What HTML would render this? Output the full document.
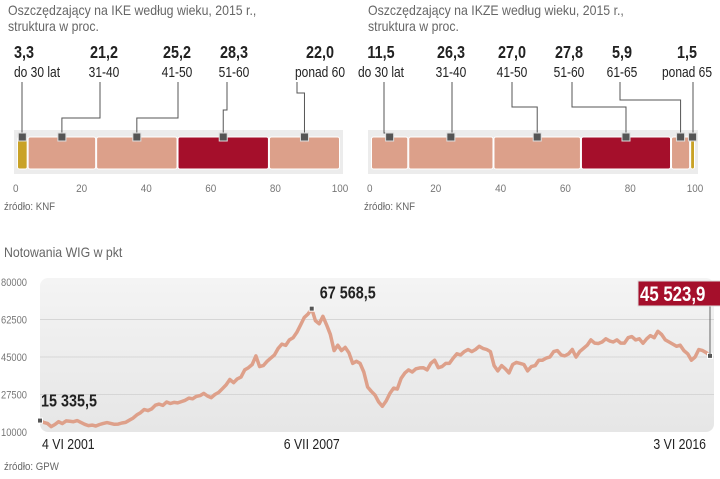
<!DOCTYPE html>
<html><head><meta charset="utf-8"><style>
body{margin:0;background:#fff;width:720px;height:474px;overflow:hidden;font-family:"Liberation Sans",sans-serif}
svg text{font-family:"Liberation Sans",sans-serif}
</style></head><body>
<svg id="root" width="720" height="474" viewBox="0 0 720 474">
<defs><linearGradient id="bg" x1="0" y1="0" x2="0" y2="1"><stop offset="0" stop-color="#f4f4f4"/><stop offset="1" stop-color="#e6e6e6"/></linearGradient></defs>
<text transform="translate(8,15) scale(0.88,1)" font-size="14" fill="#666">Oszczędzający na IKE według wieku, 2015 r.,</text>
<text transform="translate(8,31) scale(0.88,1)" font-size="14" fill="#666">struktura w proc.</text>
<text transform="translate(368,15) scale(0.88,1)" font-size="14" fill="#666">Oszczędzający na IKZE według wieku, 2015 r.,</text>
<text transform="translate(368,31) scale(0.88,1)" font-size="14" fill="#666">struktura w proc.</text>
<g id="ike"></g>
<g id="ikze"></g>
<text transform="translate(4,210) scale(0.88,1)" font-size="11" fill="#666">źródło: KNF</text>
<text transform="translate(364,210) scale(0.88,1)" font-size="11" fill="#666">źródło: KNF</text>
<text transform="translate(4,257) scale(0.88,1)" font-size="14" fill="#666">Notowania WIG w pkt</text>
<g id="wig"></g>
<text transform="translate(4,470) scale(0.88,1)" font-size="11" fill="#666">źródło: GPW</text>
</svg>
<script>
const NS="http://www.w3.org/2000/svg";
function mk(p,t,a){const e=document.createElementNS(NS,t);for(const k in a)e.setAttribute(k,a[k]);p.appendChild(e);return e;}
function tx(p,x,y,s,size,weight,fill,anchor,sc){const e=mk(p,'text',{transform:`translate(${x},${y}) scale(${sc},1)`,'font-size':size,'font-weight':weight,fill:fill,'text-anchor':anchor});e.textContent=s;return e;}
// IKE data
const ikeCats=["do 30 lat","31-40","41-50","51-60","ponad 60"];
const ikeVals=[3.3,21.2,25.2,28.3,22.0];
const ikeLabels=["3,3","21,2","25,2","28,3","22,0"];
// IKZE data
const ikzeCats=["do 30 lat","31-40","41-50","51-60","61-65","ponad 65"];
const ikzeVals=[11.5,26.3,27.0,27.8,5.9,1.5];
const ikzeLabels=["11,5","26,3","27,0","27,8","5,9","1,5"];
const ticks=[0,20,40,60,80,100];
function bar(gid,x0,x1,cats,vals,labels,colors,lab){
  const g=document.getElementById(gid);
  const sx=v=>x0+(x1-x0)*v/100;
  const bgr=mk(g,'rect',{x:x0-3,y:130,width:x1-x0+6,height:44,fill:'#ececec'});
  
  
  ticks.forEach(t=>{const e=tx(g,t===0?x0-4:sx(t),192,String(t),11,'normal','#777',t===0?'start':'middle',0.9);
    
    });
  let c=0;
  vals.forEach((v,i)=>{
    const a=sx(c),b=sx(c+v);
    const r=mk(g,'rect',{x:a+0.5,y:137,width:Math.max(b-a-1,1),height:32,rx:2,fill:colors[i],stroke:'#fff','stroke-width':1});
    
    
    const mx=(a+b)/2, L=lab[i];
    mk(g,'polyline',{points:`${L[0]},82 ${L[0]},${L[1]} ${mx},${L[1]} ${mx},137`,fill:'none',stroke:'#555','stroke-width':1});
    const m=mk(g,'rect',{x:mx-4,y:133,width:8,height:8,fill:'#555',stroke:'#ddd','stroke-width':1});
    
    
    const anc=L[3]||'middle';
    const t1=tx(g,L[2],58,labels[i],18,'bold','#222',anc,0.8);
    
    
    const t2=tx(g,L[2],77,cats[i],15,'normal','#222',anc,0.8);
    
    
    c+=v;});
}
const S='#dca08a',R='#a50f2b',Y='#c9a227';
bar('ike',17,340,ikeCats,ikeVals,ikeLabels,[Y,S,S,R,S],[[22,133,14,'start'],[100,118,104],[178,118,177],[227,110,234],[297,93,320]]);
bar('ikze',371,695,ikzeCats,ikzeVals,ikzeLabels,[S,S,S,R,S,Y],[[384,133,381],[452,133,451],[512,107,512],[572,107,569],[620,100,622],[693,133,687]]);
// WIG monthly series Jun 2001 - Jun 2016
const wig=[15335,14500,14000,12500,13500,14800,13900,
15200,15000,14800,15300,14500,13600,13000,13200,12800,13500,14000,14400,
14000,13600,13700,14200,14500,15500,16500,18000,19000,20500,20000,20800,
22500,23000,22400,24000,23300,23800,23600,24200,24800,25800,25500,26600,
27000,28000,26800,26000,27500,28500,30200,32000,34500,33000,34800,35600,
39000,40000,41500,45500,40500,41000,43000,44500,46000,49000,51000,50400,
53000,54000,56500,60000,63500,65000,67568,62000,60500,64000,60000,55600,
48000,50500,48000,49500,47000,42000,43000,42000,38000,31000,29000,27200,
24000,22000,24500,28000,30500,30000,35000,37500,39000,38000,39500,39900,
40000,39000,42000,43500,40000,40500,42000,42000,44500,46500,46000,47500,
48500,47500,48500,50000,49000,48500,47500,41000,38500,41000,39500,37600,
41500,42500,42000,41500,38500,40500,41000,43500,43500,44500,45000,47500,
48000,46000,45500,46500,48500,45000,47500,49000,50500,53000,51500,51300,
52000,53500,52500,52000,53000,51500,51500,54000,54500,53000,53500,51400,
53500,55000,54000,57000,55500,53000,52000,51000,50000,50500,48000,46500,
43500,45000,48500,48000,47000,45524];
const yTicks=[10000,27500,45000,62500,80000];
const yTickLabels=["10000","27500","45000","62500","80000"];
(function(){
  const g=document.getElementById('wig');
  const X0=40,X1=710,Y0=432,Y1=282;
  const n=wig.length;
  const sx=i=>X0+(X1-X0)*i/(n-1);
  const sy=v=>Y0-(v-10000)/70000*(Y0-Y1);
  const bg=mk(g,'rect',{x:X0,y:278,width:674,height:154,rx:8,fill:'url(#bg)'});
  
  
  yTicks.forEach((t,i)=>{
    if(i>0&&i<4){const l=mk(g,'line',{x1:X0,x2:714,y1:sy(t),y2:sy(t),stroke:'#d6d6d6','stroke-width':1});
      
      }
    const e=tx(g,1,sy(t)+4,yTickLabels[i],11,'normal','#777','start',0.85);
    
    });
  const pts=wig.map((v,i)=>sx(i).toFixed(1)+','+sy(v).toFixed(1)).join(' ');
  const pl=mk(g,'polyline',{points:pts,fill:'none',stroke:'#dea08a','stroke-width':3.5,'stroke-linejoin':'round'});
  
  
  let mi=0;wig.forEach((v,i)=>{if(v>wig[mi])mi=i;});
  const last=n-1;
  [0,mi,last].forEach(i=>{const m=mk(g,'rect',{x:sx(i)-2.5,y:sy(wig[i])-2.5,width:5,height:5,fill:'#555',stroke:'#fff','stroke-width':1});
    
    });
  const a1=tx(g,41,sy(wig[0])-14,'15 335,5',18,'bold','#222','start',0.8);
  
  
  const a2=tx(g,sx(mi)+36,sy(wig[mi])-10,'67 568,5',18,'bold','#222','middle',0.8);
  
  
  mk(g,'line',{x1:sx(last),x2:sx(last),y1:305,y2:sy(wig[last]),stroke:'#666','stroke-width':1});
  const box=mk(g,'rect',{x:638,y:281,width:84,height:25,fill:'#a50f2b',stroke:'#ddd','stroke-width':1});
  
  
  const a3=tx(g,640,301,'45 523,9',21,'bold','#fff','start',0.8);
  
  
  [['4 VI 2001',X0+2,'start'],['6 VII 2007',sx(mi),'middle'],['3 VI 2016',706,'end']].forEach(d=>{
    const t=tx(g,d[1],449,d[0],15,'normal','#222',d[2],0.82);
    
    });
})();
</script>
</body></html>
